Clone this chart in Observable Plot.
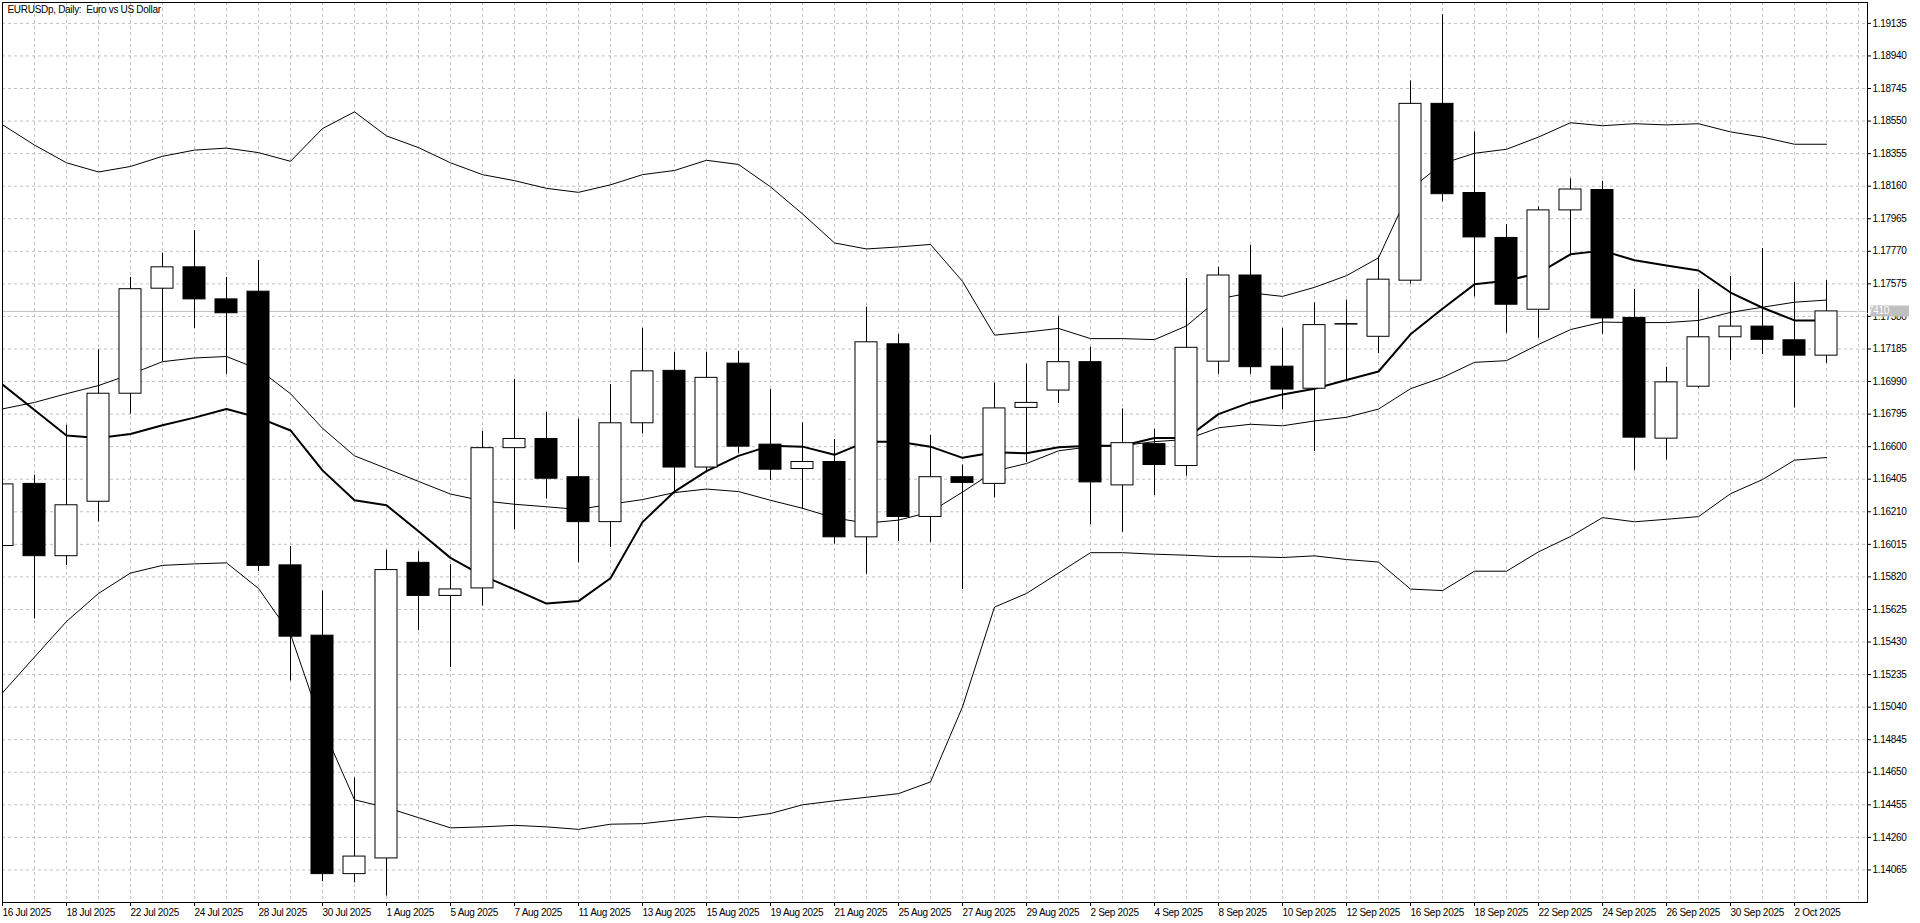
<!DOCTYPE html>
<html>
<head>
<meta charset="utf-8">
<script src="https://cdn.jsdelivr.net/npm/d3@7"></script>
<script src="https://cdn.jsdelivr.net/npm/@observablehq/plot@0.6"></script>
<style>
  html, body { margin: 0; padding: 0; background: #fff; }
  #chart { width: 1920px; height: 923px; overflow: hidden; }
</style>
</head>
<body>
<div id="chart"></div>
<script>
const title = "EURUSDp, Daily:  Euro vs US Dollar";

const days = [
  "16 Jul 2025", "17 Jul 2025", "18 Jul 2025", "21 Jul 2025", "22 Jul 2025", "23 Jul 2025", "24 Jul 2025", "25 Jul 2025",
  "28 Jul 2025", "29 Jul 2025", "30 Jul 2025", "31 Jul 2025", "1 Aug 2025", "4 Aug 2025", "5 Aug 2025", "6 Aug 2025",
  "7 Aug 2025", "8 Aug 2025", "11 Aug 2025", "12 Aug 2025", "13 Aug 2025", "14 Aug 2025", "15 Aug 2025", "18 Aug 2025",
  "19 Aug 2025", "20 Aug 2025", "21 Aug 2025", "22 Aug 2025", "25 Aug 2025", "26 Aug 2025", "27 Aug 2025", "28 Aug 2025",
  "29 Aug 2025", "1 Sep 2025", "2 Sep 2025", "3 Sep 2025", "4 Sep 2025", "5 Sep 2025", "8 Sep 2025", "9 Sep 2025",
  "10 Sep 2025", "11 Sep 2025", "12 Sep 2025", "15 Sep 2025", "16 Sep 2025", "17 Sep 2025", "18 Sep 2025", "19 Sep 2025",
  "22 Sep 2025", "23 Sep 2025", "24 Sep 2025", "25 Sep 2025", "26 Sep 2025", "29 Sep 2025", "30 Sep 2025", "1 Oct 2025",
  "2 Oct 2025", "3 Oct 2025"
];

const open = [
  1.16005, 1.16377, 1.15944, 1.16270, 1.16917, 1.17546, 1.17674, 1.17482, 1.17528, 1.15889,
  1.15468, 1.14040, 1.14134, 1.15904, 1.15706, 1.15751, 1.16591, 1.16646, 1.16417, 1.16148,
  1.16740, 1.17054, 1.16475, 1.17097, 1.16612, 1.16466, 1.16508, 1.16057, 1.17213, 1.16179,
  1.16417, 1.16377, 1.16832, 1.16936, 1.17106, 1.16368, 1.16615, 1.16484, 1.17109, 1.17625,
  1.17079, 1.16947, 1.17331, 1.17258, 1.17594, 1.18653, 1.18119, 1.17850, 1.17420, 1.18015,
  1.18137, 1.17371, 1.16648, 1.16959, 1.17255, 1.17319, 1.17237, 1.17145
];
const high = [
  1.16460, 1.16429, 1.16728, 1.17180, 1.17613, 1.17759, 1.17894, 1.17613, 1.17714, 1.16002,
  1.15736, 1.14616, 1.15980, 1.15971, 1.15895, 1.16691, 1.17003, 1.16804, 1.16765, 1.16972,
  1.17308, 1.17164, 1.17164, 1.17170, 1.16942, 1.16743, 1.16643, 1.17436, 1.17271, 1.16667,
  1.16490, 1.16981, 1.17094, 1.17378, 1.17195, 1.16826, 1.16704, 1.17607, 1.17674, 1.17805,
  1.17308, 1.17462, 1.17478, 1.17737, 1.18790, 1.19187, 1.18485, 1.17929, 1.18036, 1.18204,
  1.18189, 1.17542, 1.17075, 1.17542, 1.17618, 1.17786, 1.17584, 1.17594
];
const low = [
  1.15950, 1.15568, 1.15889, 1.16148, 1.16795, 1.17109, 1.17308, 1.17033, 1.15852, 1.15196,
  1.13995, 1.13988, 1.13908, 1.15498, 1.15278, 1.15645, 1.16102, 1.16286, 1.15904, 1.15996,
  1.16676, 1.16316, 1.16453, 1.16560, 1.16398, 1.16224, 1.16017, 1.15837, 1.16032, 1.16026,
  1.15745, 1.16292, 1.16505, 1.16859, 1.16133, 1.16087, 1.16307, 1.16423, 1.17033, 1.17033,
  1.16820, 1.16571, 1.16999, 1.17157, 1.17572, 1.18067, 1.17496, 1.17279, 1.17249, 1.17746,
  1.17273, 1.16458, 1.16520, 1.16950, 1.17115, 1.17151, 1.16831, 1.17099
];
const close = [
  1.16374, 1.15944, 1.16249, 1.16917, 1.17543, 1.17674, 1.17482, 1.17399, 1.15886, 1.15462,
  1.14040, 1.14145, 1.15861, 1.15706, 1.15745, 1.16591, 1.16646, 1.16408, 1.16148, 1.16740,
  1.17051, 1.16475, 1.17012, 1.16600, 1.16462, 1.16508, 1.16057, 1.17225, 1.16179, 1.16417,
  1.16383, 1.16829, 1.16862, 1.17106, 1.16386, 1.16621, 1.16490, 1.17192, 1.17625, 1.17076,
  1.16942, 1.17328, 1.17334, 1.17600, 1.18653, 1.18112, 1.17853, 1.17450, 1.18015, 1.18140,
  1.17368, 1.16654, 1.16985, 1.17255, 1.17319, 1.17240, 1.17145, 1.17410
];

// Bollinger bands (upper / middle / lower) and the thick moving average
const upper = [
  1.18528, 1.18406, 1.18300, 1.18245, 1.18278, 1.18339, 1.18376, 1.18388, 1.18361, 1.18309,
  1.18505, 1.18605, 1.18461, 1.18391, 1.18300, 1.18229, 1.18193, 1.18147, 1.18123, 1.18168,
  1.18229, 1.18254, 1.18315, 1.18290, 1.18156, 1.17994, 1.17820, 1.17784, 1.17796, 1.17811,
  1.17590, 1.17268, 1.17286, 1.17308, 1.17247, 1.17247, 1.17241, 1.17323, 1.17485, 1.17521,
  1.17500, 1.17554, 1.17624, 1.17731, 1.18143, 1.18295, 1.18357, 1.18381, 1.18454, 1.18540,
  1.18522, 1.18534, 1.18527, 1.18534, 1.18485, 1.18454, 1.18411, 1.18411
];
const middle = [
  1.16826, 1.16865, 1.16917, 1.16966, 1.17033, 1.17109, 1.17131, 1.17140, 1.17064, 1.16917,
  1.16710, 1.16545, 1.16469, 1.16392, 1.16316, 1.16276, 1.16255, 1.16240, 1.16224, 1.16255,
  1.16283, 1.16325, 1.16346, 1.16331, 1.16279, 1.16231, 1.16173, 1.16142, 1.16160, 1.16209,
  1.16328, 1.16453, 1.16499, 1.16575, 1.16600, 1.16606, 1.16630, 1.16643, 1.16713, 1.16734,
  1.16725, 1.16754, 1.16776, 1.16825, 1.16947, 1.17014, 1.17105, 1.17115, 1.17212, 1.17301,
  1.17346, 1.17343, 1.17343, 1.17356, 1.17404, 1.17435, 1.17465, 1.17478
];
const lower = [
  1.15126, 1.15340, 1.15553, 1.15721, 1.15843, 1.15889, 1.15898, 1.15904, 1.15751, 1.15477,
  1.14920, 1.14485, 1.14439, 1.14378, 1.14317, 1.14323, 1.14332, 1.14323, 1.14308, 1.14339,
  1.14342, 1.14363, 1.14385, 1.14378, 1.14403, 1.14455, 1.14479, 1.14500, 1.14522, 1.14592,
  1.15042, 1.15639, 1.15721, 1.15843, 1.15965, 1.15965, 1.15956, 1.15950, 1.15941, 1.15941,
  1.15936, 1.15946, 1.15924, 1.15909, 1.15747, 1.15738, 1.15854, 1.15854, 1.15970, 1.16062,
  1.16175, 1.16150, 1.16165, 1.16181, 1.16318, 1.16403, 1.16519, 1.16535
];
const ma = [
  1.16972, 1.16820, 1.16667, 1.16652, 1.16676, 1.16728, 1.16774, 1.16826, 1.16774, 1.16697,
  1.16458, 1.16279, 1.16249, 1.16093, 1.15934, 1.15828, 1.15745, 1.15660, 1.15675, 1.15812,
  1.16148, 1.16331, 1.16453, 1.16545, 1.16606, 1.16600, 1.16551, 1.16630, 1.16630, 1.16600,
  1.16533, 1.16566, 1.16560, 1.16597, 1.16606, 1.16606, 1.16652, 1.16652, 1.16795, 1.16865,
  1.16913, 1.16947, 1.16999, 1.17050, 1.17273, 1.17426, 1.17572, 1.17594, 1.17639, 1.17752,
  1.17774, 1.17716, 1.17685, 1.17655, 1.17523, 1.17432, 1.17356, 1.17356
];

const yTicks = [
  1.14065, 1.14260, 1.14455, 1.14650, 1.14845, 1.15040, 1.15235, 1.15430, 1.15625,
  1.15820, 1.16015, 1.16210, 1.16405, 1.16600, 1.16795, 1.16990, 1.17185, 1.17380,
  1.17575, 1.17770, 1.17965, 1.18160, 1.18355, 1.18550, 1.18745, 1.18940, 1.19135
];

const bars = days.map((day, i) => ({
  i, day,
  open: open[i], high: high[i], low: low[i], close: close[i],
  upper: upper[i], middle: middle[i], lower: lower[i], ma: ma[i]
}));

const half = 11 / 32; // half body width in bar units
const labelIdx = d3.range(0, days.length, 2);
const gridIdx = d3.range(0, days.length + 1);
const last = bars[bars.length - 1];

const grid = {stroke: "#c0c0c0", strokeOpacity: 1, strokeDasharray: "3,3"};

const chart = Plot.plot({
  width: 1920,
  height: 923,
  marginLeft: 2,
  marginRight: 53,
  marginTop: 2,
  marginBottom: 21,
  x: {type: "linear", domain: [0, 58.28125], axis: null},
  y: {domain: [1.13870, 1.19260], axis: null},
  style: "font-family: 'Liberation Sans', Arial, sans-serif; font-size: 10px; letter-spacing: -0.3px; background: #fff; color: #000; overflow: visible;",
  marks: [
    Plot.gridY(yTicks, grid),
    Plot.gridX(gridIdx, grid),
    Plot.ruleY([last.close], {stroke: "#c0c0c0"}),
    Plot.line(bars, {x: "i", y: "upper", stroke: "#000", strokeWidth: 1, clip: true}),
    Plot.line(bars, {x: "i", y: "middle", stroke: "#000", strokeWidth: 1, clip: true}),
    Plot.line(bars, {x: "i", y: "lower", stroke: "#000", strokeWidth: 1, clip: true}),
    Plot.line(bars, {x: "i", y: "ma", stroke: "#000", strokeWidth: 2, clip: true}),
    Plot.ruleX(bars, {x: "i", y1: "low", y2: "high", stroke: "#000", clip: true}),
    Plot.rect(bars, {
      filter: d => d.close >= d.open,
      x1: d => d.i - half, x2: d => d.i + half, y1: "open", y2: "close",
      fill: "#fff", stroke: "#000", clip: true
    }),
    Plot.rect(bars, {
      filter: d => d.close < d.open,
      x1: d => d.i - half, x2: d => d.i + half, y1: "open", y2: "close",
      fill: "#000", stroke: "#000", clip: true
    }),
    Plot.frame({stroke: "#000"}),
    Plot.text([title], {text: d => d, frameAnchor: "top-left", dx: 5, dy: 3, fill: "#000"}),
    Plot.axisX(labelIdx, {
      anchor: "bottom", tickSize: 4, tickPadding: 2, textAnchor: "start",
      tickFormat: i => days[i], label: null
    }),
    Plot.axisY(yTicks, {
      anchor: "right", tickSize: 3, tickPadding: 2,
      tickFormat: d => d.toFixed(5), label: null
    })
  ]
});

document.getElementById("chart").append(chart);

// current price marker on the price axis
const svg = d3.select(chart);
const yPos = chart.scale("y").apply(last.close);
const g = svg.append("g");
g.append("rect")
  .attr("x", 1920 - 53 + 3)
  .attr("y", Math.round(yPos) - 5.5)
  .attr("width", 39)
  .attr("height", 11)
  .attr("fill", "#c0c0c0");
g.append("text")
  .attr("x", 1920 - 53 + 5)
  .attr("y", yPos)
  .attr("dy", "0.35em")
  .attr("fill", "#fff")
  .text(last.close.toFixed(5));
</script>
</body>
</html>
